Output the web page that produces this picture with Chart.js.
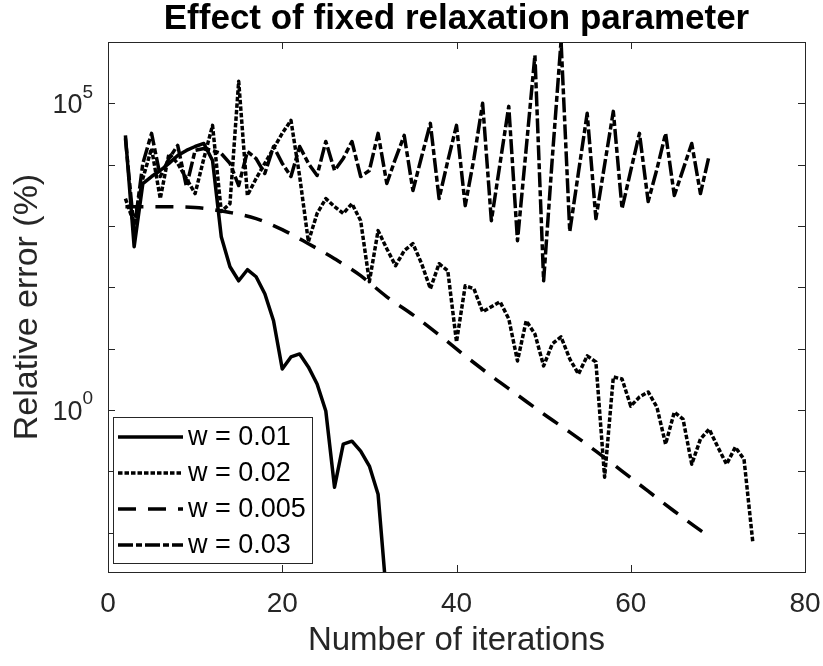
<!DOCTYPE html>
<html>
<head>
<meta charset="utf-8">
<script src="https://cdn.jsdelivr.net/npm/chart.js@4.4.1/dist/chart.umd.min.js"></script>
<style>
  html, body { margin: 0; padding: 0; background: #fff; }
  #wrap { width: 823px; height: 666px; }
</style>
</head>
<body>
<div id="wrap"><canvas id="chart" width="823" height="666"></canvas></div>
<script>
// series labels (legend order)
const seriesLabels = ["w = 0.01", "w = 0.02", "w = 0.005", "w = 0.03"];

// w = 0.01 (solid)
const iters01 = [2, 3, 4, 5, 6, 7, 8, 9, 10, 11, 12, 13, 14, 15, 16, 17, 18, 19, 20, 21, 22, 23, 24, 25, 26, 27, 28, 29, 30, 31, 32];
const err01 = [3.0e4, 460, 4930, 6410, 8040, 1.05e4, 1.41e4, 1.71e4, 1.98e4, 2.22e4, 1.17e4, 671, 217, 128, 194, 149, 78.5, 28.5,
  4.68, 7.35, 8.22, 5.05, 2.66, 0.964, 0.0552, 0.278, 0.311, 0.214, 0.122, 0.0424, 0.00082];

// w = 0.02 (dotted)
const iters02 = [2, 3, 4, 5, 6, 7, 8, 9, 10, 11, 12, 13, 14, 15, 16, 17, 18, 19, 20, 21, 22, 23, 24, 25, 26, 27, 28, 29, 30,
  31, 32, 33, 34, 35, 36, 37, 38, 39, 40, 41, 42, 43, 44, 45, 46, 47, 48, 49, 50, 51, 52, 53, 54, 55, 56, 57, 58, 59, 60,
  61, 62, 63, 64, 65, 66, 67, 68, 69, 70, 71, 72, 73, 74];
const err02 = [2800, 1090, 5950, 1.84e4, 2800, 1.52e4, 1.05e4, 5950, 3380, 1.26e4, 4.37e4, 1720, 2320, 2.29e5, 3140, 5950,
  1.05e4, 1.84e4, 3.24e4, 5.28e4, 6410, 556, 1600, 2800, 2070, 1600, 2320, 1220, 124,
  841, 427, 225, 396, 515, 243, 94.9, 243, 187, 12.9, 106, 94.9, 39.9, 48.2, 58.2, 30.7, 6.32, 28.5, 17.4, 5.24,
  12.0, 15.6, 6.81, 3.87, 7.63, 6.09, 0.0804, 3.46, 3.21, 1.16, 1.63, 1.97, 1.12, 0.278, 0.927, 0.713, 0.131, 0.336,
  0.489, 0.248, 0.131, 0.248, 0.158, 0.00723];

// w = 0.005 (dashed)
const iters005 = [2, 5, 10, 14, 17, 20, 23, 26, 29, 32, 35, 38, 41, 44, 47, 50, 53, 56, 59, 62, 65, 68, 69];
const err005 = [2070, 2070, 2000, 1660, 1320, 873, 515, 293, 155, 70.2, 35.7, 16.8, 7.63, 3.59, 1.76, 0.861, 0.437,
  0.214, 0.101, 0.0475, 0.0224, 0.0109, 0.00873];

// w = 0.03 (dash-dot)
const iters03 = [2, 3, 4, 5, 6, 7, 8, 9, 10, 11, 12, 13, 14, 15, 16, 17, 18, 19, 20, 21, 22, 23, 24, 25, 26, 27, 28, 29, 30,
  31, 32, 33, 34, 35, 36, 37, 38, 39, 40, 41, 42, 43, 44, 45, 46, 47, 48, 49, 50, 51, 52, 53, 54, 55, 56, 57, 58, 59, 60,
  61, 62, 63, 64, 65, 66, 67, 68, 69];
const err03 = [2.68e4, 841, 1.05e4, 3.24e4, 6410, 1.26e4, 2.06e4, 4410, 1.71e4, 1.84e4, 1.71e4, 1.52e4, 1.05e4, 4570,
  1.64e4, 1.26e4, 7180, 1.98e4, 1.05e4, 6410, 1.98e4, 1.05e4, 6660, 2.39e4, 8040, 1.26e4, 2.39e4, 6410, 8040,
  3.24e4, 4930, 1.26e4, 3.00e4, 3790, 1.36e4, 4.71e4, 2800, 1.15e4, 4.37e4, 2150, 1.26e4, 1.0e5, 1220, 1.05e4,
  8.93e4, 577, 1.84e4, 6.08e5, 128, 1.3e4, 1.03e6, 810, 7500, 6.87e4, 1320, 1.0e4, 7.40e4, 1920, 8000,
  3.24e4, 2510, 8400, 3.24e4, 3140, 8300, 2.22e4, 3380, 1.41e4];

// axis ticks
const xTicks = [0, 20, 40, 60, 80];
const yTicks = [1e-2, 1e-1, 1, 10, 100, 1e3, 1e4, 1e5, 1e6];
const yLabelled = [1, 1e5];
const yLabelExp = ["0", "5"];

const toPoints = (xs, ys) => xs.map((x, i) => ({ x: x, y: ys[i] }));

const AXIS = "#262626";
const FONT = "'Liberation Sans', Arial, Helvetica, sans-serif";

// box, inward ticks, power-of-ten labels and legend drawn like MATLAB
const matlabAxes = {
  id: "matlabAxes",
  afterDraw(chart) {
    const { ctx, chartArea: a, scales } = chart;
    ctx.save();
    ctx.strokeStyle = AXIS;
    ctx.lineWidth = 1;
    ctx.beginPath();
    const tl = 7;
    xTicks.forEach(v => {
      const px = Math.round(scales.x.getPixelForValue(v)) + 0.5;
      ctx.moveTo(px, a.bottom); ctx.lineTo(px, a.bottom - tl);
      ctx.moveTo(px, a.top); ctx.lineTo(px, a.top + tl);
    });
    yTicks.forEach(v => {
      const py = Math.round(scales.y.getPixelForValue(v)) + 0.5;
      ctx.moveTo(a.left, py); ctx.lineTo(a.left + tl, py);
      ctx.moveTo(a.right, py); ctx.lineTo(a.right - tl, py);
    });
    ctx.stroke();
    ctx.strokeRect(Math.round(a.left) + 0.5, Math.round(a.top) + 0.5,
      Math.round(a.right - a.left), Math.round(a.bottom - a.top));

    // y tick labels 10^n
    ctx.fillStyle = AXIS;
    ctx.textBaseline = "middle";
    ctx.textAlign = "right";
    yLabelled.forEach((v, i) => {
      const py = scales.y.getPixelForValue(v);
      const xr = a.left - 15;
      ctx.font = "19px " + FONT;
      const ew = ctx.measureText(yLabelExp[i]).width;
      ctx.fillText(yLabelExp[i], xr, py - 11);
      ctx.font = "27px " + FONT;
      ctx.fillText("10", xr - ew, py + 2);
    });

    // legend
    const lx = a.left + 5, lw = 199, lh = 146, ly = a.bottom - 9 - lh;
    ctx.fillStyle = "#fff";
    ctx.fillRect(lx, ly, lw, lh);
    ctx.strokeRect(Math.round(lx) + 0.5, Math.round(ly) + 0.5, lw, lh);
    ctx.font = "27px " + FONT;
    ctx.textBaseline = "middle";
    ctx.textAlign = "left";
    chart.data.datasets.forEach((ds, i) => {
      const y = ly + 20 + i * 36;
      ctx.save();
      ctx.strokeStyle = ds.borderColor;
      ctx.lineWidth = ds.borderWidth;
      ctx.setLineDash(ds.borderDash || []);
      ctx.beginPath();
      ctx.moveTo(lx + 5, y);
      ctx.lineTo(lx + 70, y);
      ctx.stroke();
      ctx.restore();
      ctx.fillStyle = "#000";
      ctx.fillText(ds.label, lx + 75, y + 1);
    });
    ctx.restore();
  }
};

new Chart(document.getElementById("chart"), {
  type: "line",
  data: {
    datasets: [
      { label: seriesLabels[0], data: toPoints(iters01, err01), borderColor: "#000", borderWidth: 3.5, borderDash: [] },
      { label: seriesLabels[1], data: toPoints(iters02, err02), borderColor: "#000", borderWidth: 3.5, borderDash: [4.5, 2] },
      { label: seriesLabels[2], data: toPoints(iters005, err005), borderColor: "#000", borderWidth: 3.5, borderDash: [18, 12],
        cubicInterpolationMode: "monotone" },
      { label: seriesLabels[3], data: toPoints(iters03, err03), borderColor: "#000", borderWidth: 3.5, borderDash: [15, 3, 6, 3] }
    ]
  },
  options: {
    responsive: false,
    animation: false,
    devicePixelRatio: 1,
    clip: 0,
    elements: {
      point: { radius: 0 },
      line: { tension: 0, borderJoinStyle: "round", fill: false }
    },
    layout: { padding: { left: 0, right: 18, top: 0, bottom: 0 } },
    plugins: {
      legend: { display: false },
      tooltip: { enabled: false },
      title: {
        display: true,
        fullSize: false,
        text: "Effect of fixed relaxation parameter",
        color: "#000",
        font: { family: FONT, size: 35, weight: "bold", lineHeight: 1.1 },
        padding: { top: 0, bottom: 3.5 }
      }
    },
    scales: {
      x: {
        type: "linear",
        min: 0,
        max: 80,
        afterBuildTicks: s => { s.ticks = xTicks.map(v => ({ value: v })); },
        afterFit: s => { s.height = 94; s.paddingLeft = 0; s.paddingRight = 0; },
        grid: { display: false, drawTicks: false },
        border: { display: false },
        ticks: { color: AXIS, font: { family: FONT, size: 28 }, padding: 15, maxRotation: 0 },
        title: {
          display: true, text: "Number of iterations", color: AXIS,
          font: { family: FONT, size: 33 }, padding: { top: 0, bottom: 5 }
        }
      },
      y: {
        type: "logarithmic",
        min: 0.00229,
        max: 1e6,
        afterBuildTicks: s => { s.ticks = yTicks.map(v => ({ value: v })); },
        afterFit: s => { s.width = 108; s.paddingTop = 0; s.paddingBottom = 0; },
        grid: { display: false, drawTicks: false },
        border: { display: false },
        ticks: { display: true, color: AXIS, font: { family: FONT, size: 27 }, callback: () => "" },
        title: {
          display: true, text: "Relative error (%)", color: AXIS,
          font: { family: FONT, size: 34 }, padding: { top: 7, bottom: 0 }
        }
      }
    }
  },
  plugins: [matlabAxes]
});
</script>
</body>
</html>
